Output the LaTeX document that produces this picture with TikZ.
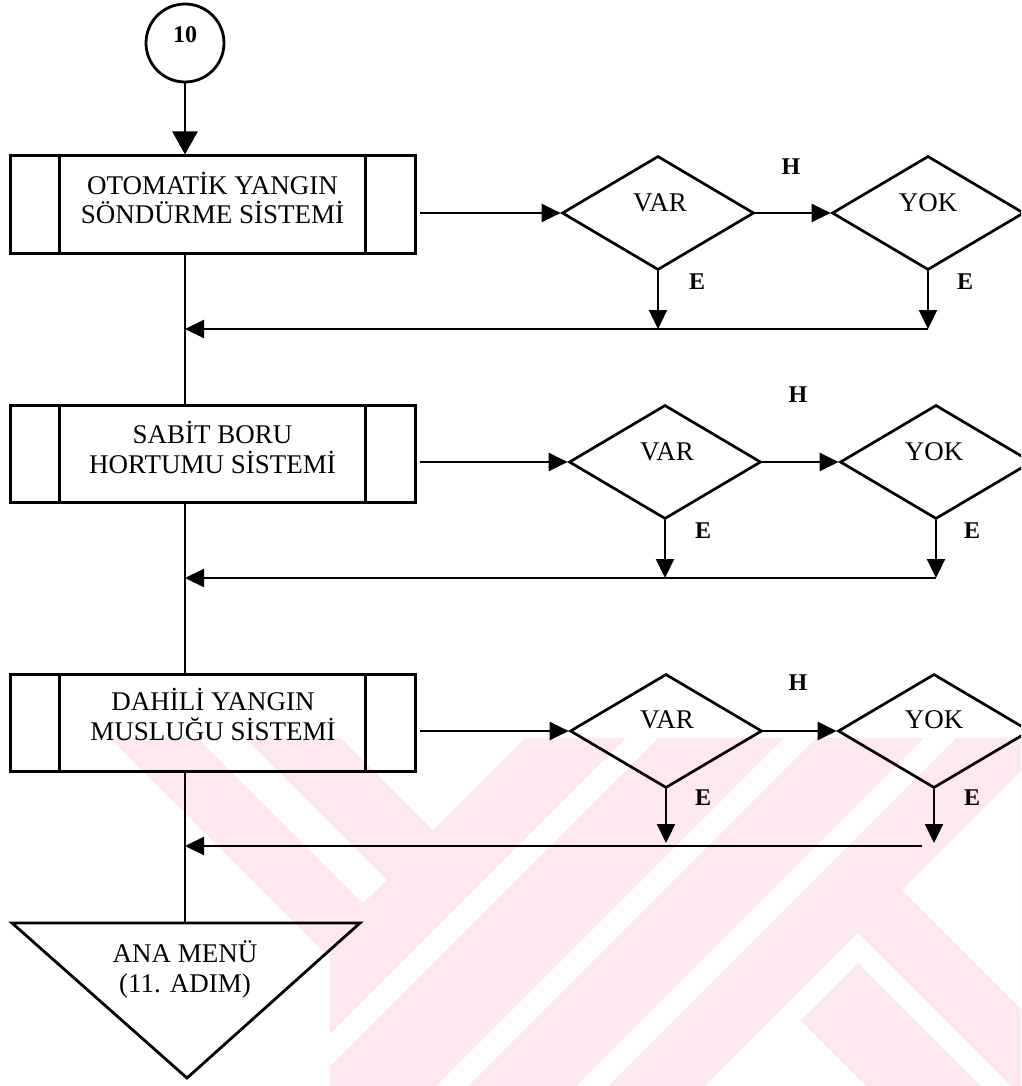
\documentclass[tikz,border=0pt]{standalone}
\usepackage{fontspec}
\setmainfont{Liberation Serif}
\usetikzlibrary{shapes.geometric,arrows.meta,calc}
\definecolor{wmpink}{RGB}{252,232,237}
\begin{document}
\begin{tikzpicture}[x=1pt,y=-1pt,
  plain/.style={line width=2.2pt},
  conn/.style={line width=2.2pt,-{Triangle[length=19pt,width=18pt]}},
  subproc/.style={draw,line width=3pt,minimum width=405pt,minimum height=97pt,inner sep=0pt,
    path picture={
      \draw[line width=3pt] ([xshift=49pt]path picture bounding box.north west) -- ([xshift=49pt]path picture bounding box.south west);
      \draw[line width=3pt] ([xshift=-50pt]path picture bounding box.north east) -- ([xshift=-50pt]path picture bounding box.south east);}},
  decision/.style={draw,diamond,line width=2.7pt,minimum width=192pt,minimum height=114pt,inner sep=0pt},
  boxtext/.style={font=\fontsize{27}{30}\selectfont,anchor=base,inner sep=0pt},
  flag/.style={font=\fontsize{24}{26}\selectfont\bfseries,anchor=base,inner sep=0pt},
]
\path[use as bounding box] (0,0) rectangle (1021,1086);
\clip (0,0) rectangle (1021,1086);
\fill[white] (0,0) rectangle (1021,1086);

% faint background emblem
\fill[wmpink] (110,738) -- (1021,738) -- (1021,1086) -- (330,1086) -- (330,958) -- cycle;
\fill[white] (198,738) -- (245,738) -- (387,880) -- (363,903) -- cycle;
\fill[white] (341,738) -- (525,738) -- (433,830) -- cycle;
\fill[white] (626,738) -- (658,738) -- (310,1086) -- (278,1086) -- cycle;
\fill[white] (784,738) -- (816,738) -- (468,1086) -- (436,1086) -- cycle;
\fill[white] (924,738) -- (956,738) -- (608,1086) -- (576,1086) -- cycle;
\fill[white] (902,890) -- (1021,771) -- (1021,1009) -- cycle;
\fill[white] (705,1086) -- (858,933) -- (1011,1086) -- (981,1086) -- (858,963) -- (735,1086) -- cycle;
\fill[white] (708,1086) -- (787,1007) -- (866,1086) -- cycle;

% connector from the previous page
\node[draw,circle,line width=2.8pt,minimum size=78pt,inner sep=0pt] (c10) at (185,43) {};
\node[font=\fontsize{24}{26}\selectfont\bfseries,anchor=base,inner sep=0pt] (c10t) at (185,43) {10};

% sub-process boxes
\node[subproc] (b1) at (212.5,204.5) {};
\node[boxtext] (b1a) at (212.5,194) {OTOMATİK YANGIN};
\node[boxtext] (b1b) at (212.5,223) {SÖNDÜRME SİSTEMİ};

\node[subproc] (b2) at (212.5,453.5) {};
\node[boxtext] (b2a) at (212.5,443) {SABİT BORU};
\node[boxtext] (b2b) at (212.5,473) {HORTUMU SİSTEMİ};

\node[subproc] (b3) at (213,722.5) {};
\node[boxtext] (b3a) at (213,710) {DAHİLİ YANGIN};
\node[boxtext] (b3b) at (213,740) {MUSLUĞU SİSTEMİ};

% decisions
\node[decision] (v1) at (658,213) {};
\node[decision] (y1) at (928,213) {};
\node[decision] (v2) at (665,462) {};
\node[decision] (y2) at (936,462) {};
\node[decision] (v3) at (666,731) {};
\node[decision] (y3) at (934,731) {};

\node[boxtext] (v1t) at (660,211.6) {VAR};
\node[boxtext] (y1t) at (928,211.6) {YOK};
\node[boxtext] (v2t) at (667,460.6) {VAR};
\node[boxtext] (y2t) at (934,460.6) {YOK};
\node[boxtext] (v3t) at (667,728.6) {VAR};
\node[boxtext] (y3t) at (934,728.6) {YOK};

\node[flag] (h1) at (791,174.5) {H};
\node[flag] (h2) at (798,402.5) {H};
\node[flag] (h3) at (798,690.5) {H};
\node[flag] (e1a) at (697,289.5) {E};
\node[flag] (e1b) at (965,289.5) {E};
\node[flag] (e2a) at (703,538.5) {E};
\node[flag] (e2b) at (972,538.5) {E};
\node[flag] (e3a) at (703,805.5) {E};
\node[flag] (e3b) at (972,805.5) {E};

% end terminal
\coordinate (menutop) at (185,923);
\draw[line width=2.8pt,line join=miter] (12,923) -- (360,923) -- (187,1078) -- cycle;
\node[boxtext] (m1) at (185,962) {ANA MENÜ};
\node[boxtext] (m2) at (185,992) {(11. ADIM)};

% junctions on the main line and right ends of the return lines
\coordinate (j1) at (185,329);
\coordinate (j2) at (185,578);
\coordinate (j3) at (185,846);
\coordinate (r1) at (y1.south |- j1);
\coordinate (r2) at (y2.south |- j2);
\coordinate (r3) at (922,846);

% main line
\draw[line width=2.2pt,-{Triangle[length=23pt,width=25pt]}] (c10.south) -- (b1.north -| c10.south);
\draw[plain] (b1.south -| c10.south) -- (b2.north -| c10.south);
\draw[plain] (b2.south -| c10.south) -- (b3.north -| c10.south);
\draw[plain] (b3.south -| c10.south) -- (menutop);

% row 1
\draw[conn] ($(b1.east |- v1.west)+(3,0)$) -- (v1.west);
\draw[conn] (v1.east) -- (y1.west);
\draw[conn] (v1.south) -- (v1.south |- j1);
\draw[conn] (y1.south) -- (r1);
\draw[conn] (r1) -- (j1);

% row 2
\draw[conn] ($(b2.east |- v2.west)+(3,0)$) -- (v2.west);
\draw[conn] (v2.east) -- (y2.west);
\draw[conn] (v2.south) -- (v2.south |- j2);
\draw[conn] (y2.south) -- (r2);
\draw[conn] (r2) -- (j2);

% row 3
\draw[conn] ($(b3.east |- v3.west)+(3,0)$) -- (v3.west);
\draw[conn] (v3.east) -- (y3.west);
\draw[conn] (v3.south) -- ($(v3.south |- j3)+(0,-3)$);
\draw[conn] (y3.south) -- ($(y3.south |- j3)+(0,-3)$);
\draw[conn] (r3) -- (j3);
\end{tikzpicture}
\end{document}
